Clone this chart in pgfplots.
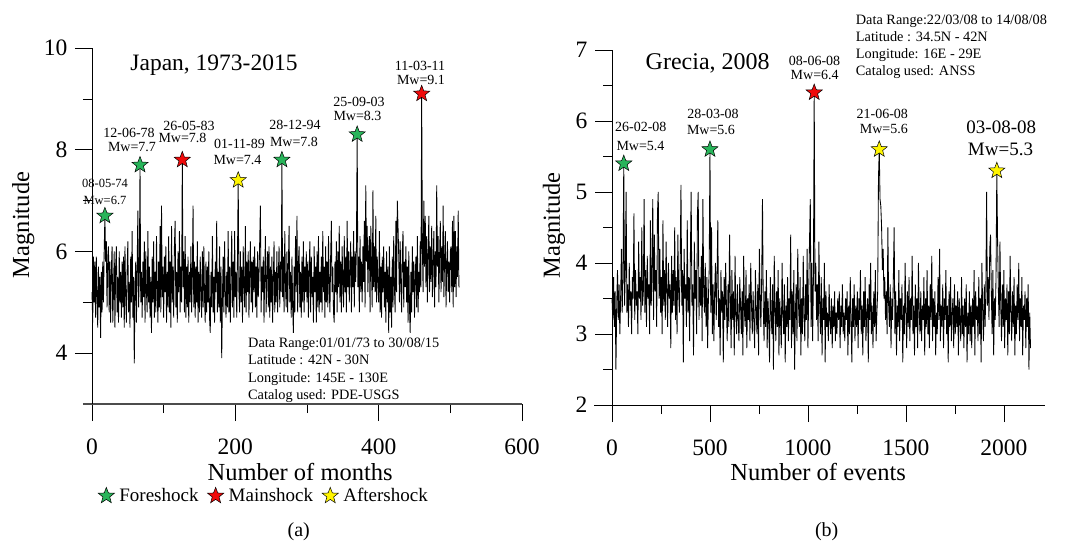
\documentclass[border=0pt]{standalone}
\usepackage{pgfplots}
\pgfplotsset{compat=1.18}
\usepackage{pgfplotstable}
\usepackage{fontspec}
\setmainfont{Liberation Serif}
\definecolor{sgreen}{RGB}{40,180,90}
\definecolor{sred}{RGB}{240,10,10}
\definecolor{syellow}{RGB}{255,245,0}
\pgfdeclareplotmark{fstar}{%
  \pgfpathmoveto{\pgfpointpolar{90}{\pgfplotmarksize}}%
  \pgfpathlineto{\pgfpointpolar{126}{0.42\pgfplotmarksize}}%
  \pgfpathlineto{\pgfpointpolar{162}{\pgfplotmarksize}}%
  \pgfpathlineto{\pgfpointpolar{198}{0.42\pgfplotmarksize}}%
  \pgfpathlineto{\pgfpointpolar{234}{\pgfplotmarksize}}%
  \pgfpathlineto{\pgfpointpolar{270}{0.42\pgfplotmarksize}}%
  \pgfpathlineto{\pgfpointpolar{306}{\pgfplotmarksize}}%
  \pgfpathlineto{\pgfpointpolar{342}{0.42\pgfplotmarksize}}%
  \pgfpathlineto{\pgfpointpolar{18}{\pgfplotmarksize}}%
  \pgfpathlineto{\pgfpointpolar{54}{0.42\pgfplotmarksize}}%
  \pgfpathclose
  \pgfusepathqfillstroke}
\newcommand\fa{\fontsize{14}{16}\selectfont}
\newcommand\fb{\fontsize{12.5}{14}\selectfont}
\newcommand\fc{\fontsize{14.3}{16}\selectfont}

\pgfplotstableread{
m
5.2
4.6
5.9
5.0
5.8
4.7
5.9
5.1
4.5
5.7
4.9
5.5
4.3
5.6
4.8
5.8
5.0
6.0
6.7
5.8
6.2
4.9
5.9
6.1
4.8
5.8
4.6
5.6
6.1
4.6
5.2
6.0
4.5
5.7
6.1
4.8
5.5
4.6
6.0
5.0
5.6
4.7
5.8
4.9
5.9
4.5
6.1
5.1
4.6
5.6
6.2
4.8
5.4
4.5
5.9
5.0
6.4
4.7
5.5
3.8
5.3
5.8
4.6
5.7
6.8
4.9
5.5
7.7
5.0
5.6
4.7
5.8
5.1
6.2
4.6
6.0
5.2
4.8
6.4
5.0
5.7
4.7
5.5
4.4
5.9
5.0
6.2
4.7
5.6
4.8
6.3
5.2
4.6
5.8
4.9
6.5
4.8
6.9
5.1
5.7
4.7
5.9
5.2
6.1
4.6
5.6
4.9
6.3
4.8
5.8
4.5
6.5
5.0
5.7
4.7
6.1
6.6
4.9
5.6
4.6
6.0
5.2
6.4
4.8
5.7
5.0
7.8
5.3
6.0
4.8
6.3
4.7
5.7
4.9
5.9
4.6
5.6
5.0
6.1
4.8
5.5
6.9
4.9
5.8
4.7
5.7
5.0
6.2
4.6
5.6
4.8
5.9
5.2
4.7
6.0
4.9
6.1
5.1
4.6
5.8
4.8
5.7
5.0
6.0
4.7
4.4
5.6
4.9
6.3
4.8
5.5
4.6
5.8
5.2
6.6
4.8
5.6
4.9
6.1
4.6
5.7
3.9
5.1
5.9
4.8
6.2
5.2
4.7
5.6
4.9
6.4
4.8
5.7
4.6
5.5
6.4
4.9
5.8
4.7
6.4
5.1
5.6
4.7
5.9
7.4
5.2
4.8
6.0
5.0
5.7
4.6
6.1
5.3
4.9
6.5
4.8
5.8
5.2
6.0
4.7
5.6
6.2
5.0
5.8
4.8
5.9
5.2
6.1
4.9
5.7
4.7
6.0
5.1
5.5
6.2
6.9
4.8
5.7
5.2
5.9
4.6
5.6
6.3
4.8
5.5
6.0
4.9
6.1
4.7
5.7
5.0
5.9
4.6
5.4
6.2
4.8
5.6
5.0
6.0
4.8
5.5
6.1
4.9
5.8
5.2
7.8
5.1
5.9
4.8
6.4
5.3
4.9
6.0
4.8
5.7
6.5
5.0
5.6
4.7
5.9
4.9
4.4
5.7
4.8
6.3
5.2
6.7
4.8
5.8
6.1
4.9
5.6
4.7
5.9
5.0
6.2
4.8
5.7
5.2
6.0
5.0
5.8
4.7
5.6
6.2
4.8
5.9
5.1
5.5
4.6
6.1
5.2
5.7
4.6
6.0
4.9
6.3
4.8
5.6
5.0
5.9
4.8
6.4
5.2
5.7
4.7
6.1
5.0
5.8
4.9
6.3
5.3
4.8
5.9
6.6
5.2
5.7
4.8
4.6
5.8
5.2
6.2
4.8
6.0
5.3
6.5
5.0
5.8
4.8
6.1
5.4
4.9
6.3
5.2
5.9
4.8
6.6
5.3
6.0
5.0
5.7
6.2
4.8
5.9
5.3
6.4
4.9
6.0
5.4
6.1
8.3
5.3
5.9
4.8
6.3
5.2
5.8
5.0
6.1
5.4
6.6
4.9
7.3
5.8
6.5
5.2
6.0
6.3
4.8
6.5
5.7
4.9
7.2
5.3
6.1
5.2
6.7
5.0
5.9
5.4
5.0
6.4
4.8
5.7
4.7
5.9
5.2
6.1
4.9
5.6
4.6
6.0
5.0
5.7
4.4
6.1
4.8
5.5
4.5
5.9
4.9
6.3
5.3
4.8
6.6
5.2
7.0
6.5
5.9
5.0
6.2
5.4
4.8
6.0
6.4
4.9
5.8
5.3
6.1
5.0
5.7
4.6
6.0
4.9
4.4
5.6
4.8
6.1
5.2
5.8
4.7
5.5
5.9
4.9
6.3
4.8
5.6
5.2
6.2
5.3
9.1
6.1
5.2
7.0
5.7
6.7
5.3
6.3
5.0
5.9
6.7
5.2
6.1
5.4
6.5
5.1
5.8
6.4
4.9
6.0
5.3
7.3
5.7
6.3
5.0
5.9
6.6
5.2
6.1
5.4
6.9
5.1
5.9
6.4
4.9
5.7
6.2
5.2
5.8
5.0
6.0
6.1
5.2
6.6
4.9
6.7
5.3
6.4
5.1
6.1
5.5
6.8
5.3
5.3
}\japan

\pgfplotstableread{
m
3.5
3.2
3.8
3.1
3.6
2.5
3.4
3.9
3.2
3.7
3.0
3.5
4.2
3.3
3.8
5.4
3.4
3.9
5.0
3.3
3.7
3.1
4.0
3.4
3.6
3.0
3.8
3.5
4.7
3.2
3.9
3.4
3.6
3.0
4.3
3.5
3.8
3.2
4.5
3.4
3.6
4.9
3.3
3.9
3.1
4.1
3.5
3.7
3.0
4.6
3.4
3.8
4.9
3.2
4.4
3.6
3.9
3.1
4.7
5.0
3.5
4.2
3.3
3.8
3.0
4.6
3.4
3.9
3.2
4.3
3.6
3.1
4.0
3.5
3.7
2.8
4.1
3.3
3.9
3.4
4.5
3.2
3.8
3.0
4.4
3.6
3.3
4.0
5.1
3.4
3.9
2.6
4.2
3.5
3.7
3.1
4.6
3.3
3.8
2.9
4.1
5.0
3.4
3.7
2.7
4.3
3.5
3.9
3.0
4.7
5.0
3.2
3.8
3.4
4.1
2.9
4.9
3.6
3.3
4.0
3.1
3.8
2.8
3.5
3.9
5.6
3.3
4.5
3.0
3.7
2.9
3.6
4.0
3.2
3.8
4.6
3.1
3.5
2.7
3.9
3.3
3.6
2.6
3.8
3.2
4.0
3.4
2.9
3.7
3.1
4.4
3.5
2.8
3.9
3.2
3.6
2.7
4.1
3.3
3.0
3.7
3.2
2.9
3.8
3.4
3.0
3.6
2.7
4.1
3.3
3.1
3.9
2.8
3.5
3.2
3.7
2.9
4.0
3.4
3.0
3.6
3.2
2.8
3.9
3.3
3.0
3.7
2.7
4.2
3.5
3.1
3.8
4.9
3.4
2.9
3.6
3.1
3.9
2.8
3.5
3.2
2.6
3.8
3.3
3.0
3.7
2.5
4.1
3.4
2.9
3.6
3.1
3.9
2.7
3.5
3.2
2.8
4.0
3.3
3.0
3.7
2.6
3.4
3.1
3.8
2.9
3.5
3.2
4.4
2.8
3.6
3.0
3.9
2.5
3.3
3.7
2.9
4.2
3.4
3.1
3.8
2.7
3.5
3.0
4.1
3.3
2.9
3.7
3.2
4.2
2.8
3.6
4.3
4.9
3.1
4.0
2.9
3.8
6.4
3.6
4.0
3.2
3.7
2.9
4.3
3.4
3.0
3.8
2.7
3.5
3.2
4.0
2.6
3.6
3.1
3.3
2.9
3.7
3.2
3.0
3.5
2.8
3.4
3.1
3.6
2.9
3.3
3.0
3.5
3.2
3.6
2.8
3.4
3.1
3.7
3.0
3.3
2.9
3.5
3.2
3.6
2.7
3.4
3.0
3.8
3.2
2.6
3.5
3.1
3.7
2.9
3.4
3.1
3.6
2.8
3.5
3.2
3.9
3.0
3.4
2.7
3.6
3.1
3.8
2.9
3.3
3.5
2.6
3.7
3.2
4.0
3.0
3.4
2.8
3.6
3.1
3.9
2.9
3.3
3.6
5.2
5.6
4.9
4.8
4.5
3.9
4.2
3.5
3.8
3.2
3.6
3.0
4.5
3.4
3.1
3.7
2.8
3.5
3.2
3.8
4.5
3.0
3.6
2.7
3.4
3.1
3.9
2.9
3.5
3.2
3.7
2.6
3.4
3.0
4.0
3.3
2.8
3.6
3.1
3.8
2.9
3.5
3.2
4.1
3.0
3.4
2.7
3.7
3.1
3.5
2.8
4.0
3.3
3.0
3.6
2.9
3.4
3.2
3.8
2.7
3.5
3.1
3.9
3.0
3.4
2.8
3.7
3.2
4.1
2.9
3.5
3.1
3.6
2.7
3.3
3.0
3.8
3.2
4.2
2.9
3.4
3.1
3.7
2.8
3.5
3.2
3.9
3.0
3.4
2.6
3.6
3.1
3.8
2.9
3.3
3.5
2.8
3.7
3.0
3.4
3.1
3.6
2.7
3.5
3.2
2.9
3.8
3.0
3.4
2.8
3.5
3.1
3.7
2.6
3.3
3.0
3.6
2.9
3.4
2.8
3.5
3.1
3.9
2.7
3.6
3.2
3.4
2.9
3.8
3.0
3.5
2.6
4.0
3.3
2.9
3.7
3.1
3.6
5.0
3.4
3.8
3.2
4.2
4.4
3.6
3.0
3.9
2.7
3.5
3.2
3.8
5.3
4.3
3.6
3.1
4.3
3.4
2.9
3.7
3.1
3.9
2.8
3.5
3.2
3.7
2.7
3.6
3.0
4.1
3.3
2.9
3.6
3.1
3.8
2.7
3.4
3.0
3.7
3.2
4.0
2.9
3.5
3.1
3.8
2.7
3.4
3.2
3.6
2.8
3.5
3.1
3.7
2.5
3.3
2.8
}\grecia

\pgfplotsset{myax/.style={scale only axis, anchor=south west,
  axis lines=left, axis line style={-, line width=0.6pt},
  tick align=outside, major tick length=17pt, minor tick length=9pt,
  every tick/.style={black, line width=0.6pt},
  ticklabel style={font=\fontsize{23.5}{26}\selectfont},
  xticklabel={\pgfmathprintnumber[assume math mode=true]{\tick}},
  yticklabel={\pgfmathprintnumber[assume math mode=true]{\tick}},
  xticklabel style={yshift=-14pt},
  yticklabel style={xshift=-4pt},
  label style={font=\fontsize{24.5}{28}\selectfont},
  /pgf/number format/assume math mode=true, /pgf/number format/1000 sep={},
  clip=false, minor x tick num=1, minor y tick num=1}}

\begin{document}
\begin{tikzpicture}[x=1pt,y=1pt]
\path (0,0) rectangle (1067,544);

\begin{axis}[myax, at={(92pt,140pt)}, width=430pt, height=356pt,
  xmin=0, xmax=600, ymin=3, ymax=10,
  xtick={0,200,400,600}, ytick={4,6,8,10},
  xlabel={Number of months}, ylabel={Magnitude},
  xlabel style={at={(axis description cs:0.484,-0.191)}, anchor=center},
  ylabel style={at={(axis description cs:-0.160,0.503)}, anchor=center},
  x axis line style={shorten <=-9pt, draw=gray!60!black, line width=1.1pt},
  legend style={at={(axis description cs:0.40,-0.258)}, anchor=center,
    draw=none, fill=none, font=\fontsize{19}{22}\selectfont,
    /tikz/every odd column/.append style={column sep=3pt},
    /tikz/every even column/.append style={column sep=7pt}},
  legend columns=3]
\addplot[black, line width=0.85pt, forget plot] table[x expr=\coordindex, y index=0] {\japan};
\addplot[only marks, mark=fstar, mark size=8.5pt, mark options={fill=sgreen, draw=black, line width=0.5pt}]
  coordinates {(18,6.7) (67,7.7) (265,7.8) (370,8.3)};
\addlegendentry{Foreshock}
\addplot[only marks, mark=fstar, mark size=8.5pt, mark options={fill=sred, draw=black, line width=0.5pt}]
  coordinates {(126,7.8) (460,9.1)};
\addlegendentry{Mainshock}
\addplot[only marks, mark=fstar, mark size=8.5pt, mark options={fill=syellow, draw=black, line width=0.5pt}]
  coordinates {(204,7.4)};
\addlegendentry{Aftershock}
\end{axis}

\begin{axis}[myax, at={(612pt,139pt)}, width=433pt, height=355pt,
  xmin=0, xmax=2210, ymin=2, ymax=7,
  xtick={0,500,1000,1500,2000}, ytick={2,3,4,5,6,7},
  xlabel={Number of events}, ylabel={Magnitude},
  xlabel style={at={(axis description cs:0.476,-0.19)}, anchor=center},
  ylabel style={at={(axis description cs:-0.134,0.506)}, anchor=center},
  x axis line style={shorten <=-18pt}]
\addplot[black, line width=0.85pt] table[x expr=\coordindex*4, y index=0] {\grecia};
\addplot[only marks, mark=fstar, mark size=8.5pt, mark options={fill=sgreen, draw=black, line width=0.5pt}]
  coordinates {(60,5.4) (500,5.6)};
\addplot[only marks, mark=fstar, mark size=8.5pt, mark options={fill=sred, draw=black, line width=0.5pt}]
  coordinates {(1032,6.4)};
\addplot[only marks, mark=fstar, mark size=8.5pt, mark options={fill=syellow, draw=black, line width=0.5pt}]
  coordinates {(1364,5.6) (1964,5.3)};
\end{axis}

% titles
\node[anchor=base, font=\fontsize{23.5}{26}\selectfont] at (214,473) {Japan, 1973-2015};
\node[anchor=base, font=\fontsize{24}{26}\selectfont] at (707.7,474) {Grecia, 2008};

% left annotations
\node[font=\fb] at (105,361) {08-05-74};
\node[font=\fb] at (105,344) {Mw=6.7};
\node[font=\fa] at (129,411) {12-06-78};
\node[font=\fa] at (132,397) {Mw=7.7};
\node[font=\fa] at (189,418) {26-05-83};
\node[font=\fa] at (182.5,406) {Mw=7.8};
\node[font=\fa] at (239.5,400) {01-11-89};
\node[font=\fa] at (237.5,384) {Mw=7.4};
\node[font=\fa] at (295,419) {28-12-94};
\node[font=\fa] at (294,402) {Mw=7.8};
\node[font=\fa] at (359,442) {25-09-03};
\node[font=\fa] at (357.5,428) {Mw=8.3};
\node[font=\fa] at (420,478) {11-03-11};
\node[font=\fa] at (421,464) {Mw=9.1};

% right annotations
\node[font=\fa] at (640.8,417.3) {26-02-08};
\node[font=\fa] at (640.5,398.3) {Mw=5.4};
\node[font=\fa] at (713,429.7) {28-03-08};
\node[font=\fa] at (711,414) {Mw=5.6};
\node[font=\fa] at (814.5,483.3) {08-06-08};
\node[font=\fa] at (814.7,469) {Mw=6.4};
\node[font=\fa] at (882.3,429.7) {21-06-08};
\node[font=\fa] at (883.8,414.7) {Mw=5.6};
\node[font=\fontsize{19}{22}\selectfont] at (1001.3,416.3) {03-08-08};
\node[font=\fontsize{19}{22}\selectfont] at (1000.5,395) {Mw=5.3};

% info boxes
\node[anchor=base west, inner sep=0pt, font=\fc] at (248,197) {Data Range:01/01/73 to 30/08/15};
\node[anchor=base west, inner sep=0pt, font=\fc] at (248,179.5) {Latitude : 42N - 30N};
\node[anchor=base west, inner sep=0pt, font=\fc] at (248,162) {Longitude: 145E - 130E};
\node[anchor=base west, inner sep=0pt, font=\fc] at (248,144.5) {Catalog used: PDE-USGS};

\node[anchor=base west, inner sep=0pt, font=\fc] at (855.7,519) {Data Range:22/03/08 to 14/08/08};
\node[anchor=base west, inner sep=0pt, font=\fc] at (855.7,502.3) {Latitude : 34.5N - 42N};
\node[anchor=base west, inner sep=0pt, font=\fc] at (855.7,485) {Longitude: 16E - 29E};
\node[anchor=base west, inner sep=0pt, font=\fc] at (855.7,468) {Catalog used: ANSS};

% panel labels
\node[font=\fontsize{20}{22}\selectfont] at (298.7,12.3) {(a)};
\node[font=\fontsize{20}{22}\selectfont] at (826.7,12.3) {(b)};
\end{tikzpicture}
\end{document}
